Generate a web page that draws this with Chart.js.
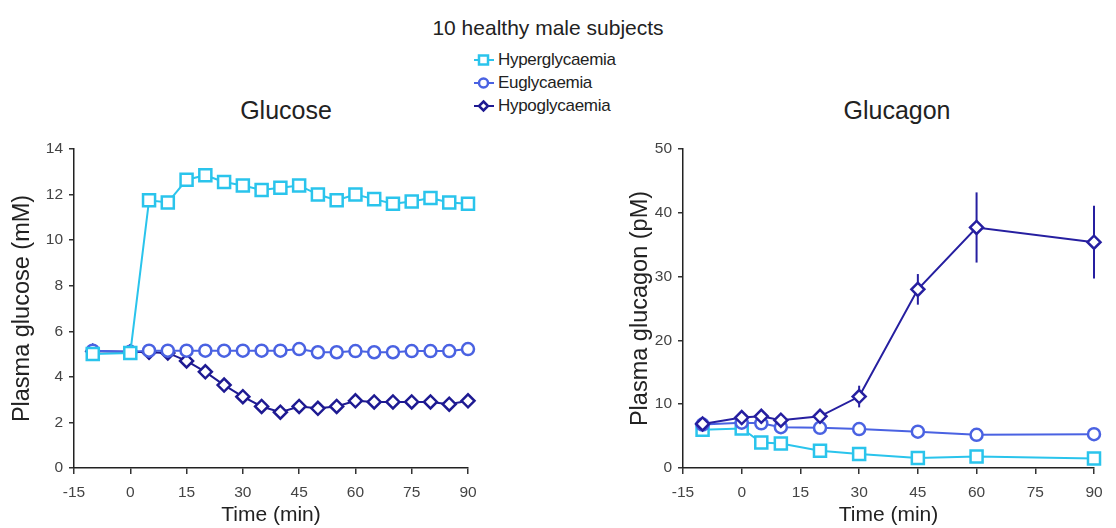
<!DOCTYPE html>
<html>
<head>
<meta charset="utf-8">
<script src="https://cdn.jsdelivr.net/npm/chart.js@4.4.1/dist/chart.umd.min.js"></script>
<style>
  body { margin: 0; background: #fff; font-family: "Liberation Sans", Arial, sans-serif; color: #222; }
  #wrap { position: relative; width: 1116px; height: 528px; overflow: hidden; }
  #wrap canvas { position: absolute; top: 0; }
  #cGlucose { left: 0; }
  #cGlucagon { left: 560px; }
  #mainTitle { position: absolute; left: 0; width: 1096px; top: 16px; text-align: center; font-size: 21px; }
  .panelTitle { position: absolute; top: 96px; width: 200px; text-align: center; font-size: 25px; }
  #tGlucose { left: 186px; }
  #tGlucagon { left: 797px; }
  #legend { position: absolute; left: 472px; top: 48px; font-size: 17px; line-height: 23px; letter-spacing: -0.3px; }
  #legend div { display: flex; align-items: center; }
  #legend svg { margin-right: 2px; }
</style>
</head>
<body>
<div id="wrap">
  <div id="mainTitle">10 healthy male subjects</div>
  <div id="legend"></div>
  <div class="panelTitle" id="tGlucose">Glucose</div>
  <div class="panelTitle" id="tGlucagon">Glucagon</div>
  <canvas id="cGlucose" width="560" height="528"></canvas>
  <canvas id="cGlucagon" width="556" height="528"></canvas>
</div>
<script>
// sampling times (min)
var glucoseTimes = [-10, 0, 5, 10, 15, 20, 25, 30, 35, 40, 45, 50, 55, 60, 65, 70, 75, 80, 85, 90];
var glucagonTimes = [-10, 0, 5, 10, 20, 30, 45, 60, 90];
var timeTicks = [-15, 0, 15, 30, 45, 60, 75, 90];

// plasma glucose (mM)
var hyperGlucose = [5.0, 5.05, 11.75, 11.65, 12.65, 12.85, 12.55, 12.4, 12.2, 12.3, 12.4, 12.0, 11.75, 12.0, 11.8, 11.6, 11.7, 11.85, 11.65, 11.6];
var euGlucose = [5.15, 5.1, 5.15, 5.15, 5.15, 5.15, 5.15, 5.15, 5.15, 5.15, 5.22, 5.08, 5.08, 5.13, 5.08, 5.08, 5.13, 5.13, 5.13, 5.22];
var hypoGlucose = [5.12, 5.1, 5.08, 5.05, 4.7, 4.22, 3.64, 3.13, 2.7, 2.45, 2.7, 2.62, 2.7, 2.95, 2.9, 2.9, 2.9, 2.9, 2.8, 2.95];

// plasma glucagon (pM) with SEM
var hyperGlucagon = [6.0, 6.2, 4.0, 3.85, 2.7, 2.2, 1.55, 1.8, 1.5];
var euGlucagon = [6.8, 7.1, 7.0, 6.4, 6.3, 6.1, 5.7, 5.2, 5.3];
var hypoGlucagon = [6.9, 7.9, 8.1, 7.5, 8.1, 11.2, 28.0, 37.7, 35.4];
var hypoGlucagonErr = [0.4, 0.5, 0.5, 0.5, 0.5, 1.7, 2.4, 5.5, 5.7];

var groups = ['Hyperglycaemia', 'Euglycaemia', 'Hypoglycaemia'];
var colors = { hyper: '#2ac4ec', eu: '#4a62e2', hypo: '#1e1a92' };

var FONT = '"Liberation Sans", Arial, sans-serif';

function pts(xs, ys) {
  return xs.map(function (x, i) { return { x: x, y: ys[i] }; });
}

// vertical SEM bars, drawn under each dataset's markers
var errorBarPlugin = {
  id: 'errorBars',
  beforeDatasetDraw: function (chart, args) {
    var ds = chart.data.datasets[args.index];
    if (!ds.errorBars) return;
    var ctx = chart.ctx, xs = chart.scales.x, ys = chart.scales.y;
    ctx.save();
    ctx.strokeStyle = ds.borderColor;
    ctx.lineWidth = 2;
    ds.data.forEach(function (p, i) {
      var e = ds.errorBars[i];
      if (!e) return;
      var px = xs.getPixelForValue(p.x);
      ctx.beginPath();
      ctx.moveTo(px, ys.getPixelForValue(p.y - e));
      ctx.lineTo(px, ys.getPixelForValue(p.y + e));
      ctx.stroke();
    });
    ctx.restore();
  }
};

function series(label, data, color, style, radius, order, errs) {
  return {
    label: label,
    data: data,
    borderColor: color,
    backgroundColor: color,
    borderWidth: 2,
    pointStyle: style,
    pointRadius: radius,
    pointBorderWidth: 2.5,
    pointBackgroundColor: '#fff',
    pointBorderColor: color,
    clip: false,
    order: order,
    errorBars: errs || null
  };
}

function makeChart(id, opts) {
  return new Chart(document.getElementById(id), {
    type: 'line',
    data: { datasets: opts.datasets },
    plugins: [errorBarPlugin],
    options: {
      responsive: false,
      animation: false,
      layout: { padding: { left: 0, right: opts.padRight, top: 149, bottom: 0 } },
      plugins: {
        legend: { display: false },
        tooltip: { enabled: false }
      },
      scales: {
        x: {
          type: 'linear',
          min: -15, max: 90,
          afterBuildTicks: function (s) { s.ticks = timeTicks.map(function (v) { return { value: v }; }); },
          afterFit: function (s) { s.height = 60; },
          grid: { drawOnChartArea: false, drawTicks: true, tickLength: 6, color: '#333', lineWidth: 1.5 },
          border: { color: '#222', width: 1.5 },
          ticks: { color: '#444', padding: 9, font: { family: FONT, size: 15.5 } },
          title: {
            display: true, text: 'Time (min)', color: '#222',
            font: { family: FONT, size: 21 }, padding: { top: 0, bottom: 0 }
          }
        },
        y: {
          min: 0, max: opts.yMax,
          ticks: { stepSize: opts.yStep, color: '#444', padding: 6, font: { family: FONT, size: 15.5 } },
          afterFit: function (s) { s.width = opts.yWidth; },
          grid: { drawOnChartArea: false, drawTicks: true, tickLength: 5, color: '#333', lineWidth: 1.5 },
          border: { color: '#222', width: 1.5 },
          title: {
            display: true, text: opts.yTitle, color: '#222',
            font: { family: FONT, size: 23.5 }, padding: { top: opts.yTitlePad, bottom: 0 }
          }
        }
      }
    }
  });
}

makeChart('cGlucose', {
  yTitle: 'Plasma glucose (mM)',
  yMax: 14, yStep: 2, yWidth: 74, yTitlePad: 8, padRight: 92,
  datasets: [
    series(groups[0], pts(glucoseTimes, hyperGlucose), colors.hyper, 'rect', 8.5, 0),
    series(groups[1], pts(glucoseTimes, euGlucose), colors.eu, 'circle', 6, 1),
    series(groups[2], pts(glucoseTimes, hypoGlucose), colors.hypo, 'rectRot', 6.5, 2)
  ]
});

makeChart('cGlucagon', {
  yTitle: 'Plasma glucagon (pM)',
  yMax: 50, yStep: 10, yWidth: 123, yTitlePad: 66, padRight: 22,
  datasets: [
    series(groups[0], pts(glucagonTimes, hyperGlucagon), colors.hyper, 'rect', 8.5, 2),
    series(groups[1], pts(glucagonTimes, euGlucagon), colors.eu, 'circle', 6, 1),
    series(groups[2], pts(glucagonTimes, hypoGlucagon), '#261fa0', 'rectRot', 6.5, 0, hypoGlucagonErr)
  ]
});

// shared legend: line with marker + label
(function () {
  var shapes = {
    hyper: '<rect x="7" y="3.5" width="9" height="9" fill="#fff" stroke-width="2.5"/>',
    eu: '<circle cx="11.5" cy="8" r="4.5" fill="#fff" stroke-width="2.5"/>',
    hypo: '<polygon points="11.5,3.5 16,8 11.5,12.5 7,8" fill="#fff" stroke-width="2.5"/>'
  };
  var keys = ['hyper', 'eu', 'hypo'];
  var html = '';
  keys.forEach(function (k, i) {
    var c = colors[k];
    html += '<div><svg width="24" height="16" stroke="' + c + '">' +
      '<line x1="2" y1="8" x2="22" y2="8" stroke-width="2"/>' + shapes[k] +
      '</svg><span>' + groups[i] + '</span></div>';
  });
  document.getElementById('legend').innerHTML = html;
})();
</script>
</body>
</html>
